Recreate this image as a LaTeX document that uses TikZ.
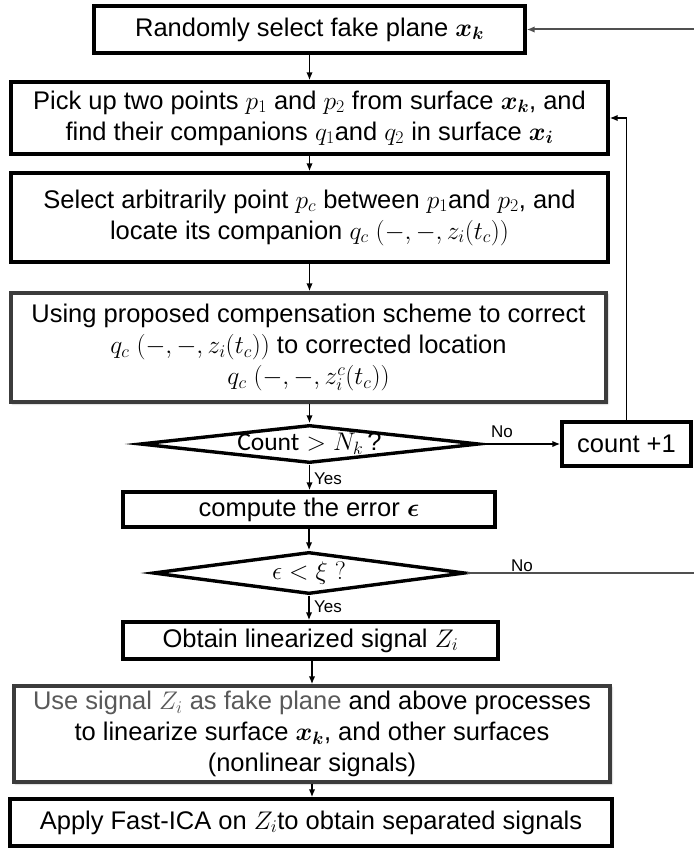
\documentclass[tikz,border=0pt]{standalone}
\usepackage{fix-cm}
\usepackage{amsmath,bm}
\usepackage{fontspec}
\setmainfont{Liberation Sans}
\newfontfamily\calibfont{Carlito}
\usetikzlibrary{arrows.meta,shapes.geometric,shadows.blur}
\definecolor{framegray}{HTML}{3C3C3C}
\definecolor{textgray}{HTML}{595959}
\definecolor{loopgray}{HTML}{505050}

\begin{document}
\begin{tikzpicture}[x=1pt,y=-1pt,
  every node/.style={font=\fontsize{25.5}{31}\selectfont},
  procbox/.style={draw, fill=white, line width=3.4pt, rectangle, align=center, inner sep=0pt},
  softbox/.style={procbox, draw=framegray,
    blur shadow={shadow xshift=1.5pt, shadow yshift=-1.5pt, shadow blur steps=6, shadow opacity=45}},
  decision/.style={draw, fill=white, shape=diamond, line width=3.4pt, inner sep=0pt},
  conn/.style={line width=1.7pt, -{Latex[length=8pt,width=6.5pt]}},
  backloop/.style={conn, draw=loopgray, line width=2pt},
  lab/.style={font=\fontsize{17}{19}\selectfont, inner sep=0pt}]
\useasboundingbox (0,0) rectangle (693,848);

% process steps
\node[procbox, minimum width=431pt, minimum height=47pt] (b1) at (309.5,29.5)
  {Randomly select fake plane $\bm{x_k}$};
\node[procbox, minimum width=597pt, minimum height=72pt] (b2) at (309.5,118)
  {Pick up two points $p_1$ and $p_2$ from surface $\bm{x_k}$, and\\
   find their companions $q_1$and $q_2$ in surface $\bm{x_i}$};
\node[procbox, minimum width=597pt, minimum height=89pt] (b3) at (309.5,217.5)
  {Select arbitrarily point $p_c$ between $p_1$and $p_2$, and\\
   locate its companion $q_c\;(-,-,z_i(t_c))$};
\node[softbox, minimum width=595pt, minimum height=109pt] (b4) at (308.5,347.5)
  {Using proposed compensation scheme to correct\\
   $q_c\;(-,-,z_i(t_c))$ to corrected location\\
   $q_c\;(-,-,z^c_i(t_c))$};

% iteration counter
\node[decision, aspect=8.9, minimum width=339pt, minimum height=38pt] (d1) at (309.5,444)
  {{\calibfont Count} $>N_k$\,?};
\node[procbox, minimum width=129pt, minimum height=44pt] (cnt) at (626.5,444) {count +1};

% error test
\node[procbox, minimum width=372pt, minimum height=35pt] (cmp) at (309,509.5)
  {compute the error $\bm{\epsilon}$};
\node[decision, aspect=7.4, minimum width=312pt, minimum height=42pt] (d2) at (309,573)
  {$\epsilon<\xi\;?$};

% final stages
\node[procbox, minimum width=375pt, minimum height=37pt] (obt) at (310.5,640.5)
  {Obtain linearized signal $Z_i$};
\node[softbox, minimum width=596pt, minimum height=96pt] (use) at (312,734)
  {{\color{textgray}Use signal $Z_i$ as fake plane} and above processes\\
   to linearize surface $\bm{x_k}$, and other surfaces\\
   (nonlinear signals)};
\node[procbox, minimum width=602pt, minimum height=47pt] (fica) at (311,822.5)
  {Apply Fast-ICA on $Z_i$to obtain separated signals};

% main flow
\draw[conn] (b1.south) -- (b2.north);
\draw[conn] (b2.south) -- (b3.north);
\draw[conn] (b3.south) -- (b3.south |- b4.north);
\draw[conn] (d1.north |- b4.south) -- (d1.north);
\draw[conn] (d1.south) -- (d1.south |- cmp.north);
\draw[conn] (d2.north |- cmp.south) -- (d2.north);
\draw[conn] (d2.south) -- (d2.south |- obt.north);
\draw[conn] (use.north |- obt.south) -- (use.north);
\draw[conn] (use.south) -- (use.south |- fica.north);

% loops
\draw[conn] (d1.east) -- (cnt.west);
\draw[conn] (cnt.north) -- (cnt.north |- b2.east) -- (b2.east);
\coordinate (rb) at (697,573);
\coordinate (rt) at (697,29.5);
\draw[backloop] (d2.east) -- (rb) -- (rt) -- (b1.east);

% branch labels
\node[lab] (no1) at (502,432) {No};
\node[lab, anchor=west] (yes1) at (314,479) {Yes};
\node[lab] (no2) at (522,566) {No};
\node[lab, anchor=west] (yes2) at (314,607) {Yes};
\end{tikzpicture}
\end{document}
